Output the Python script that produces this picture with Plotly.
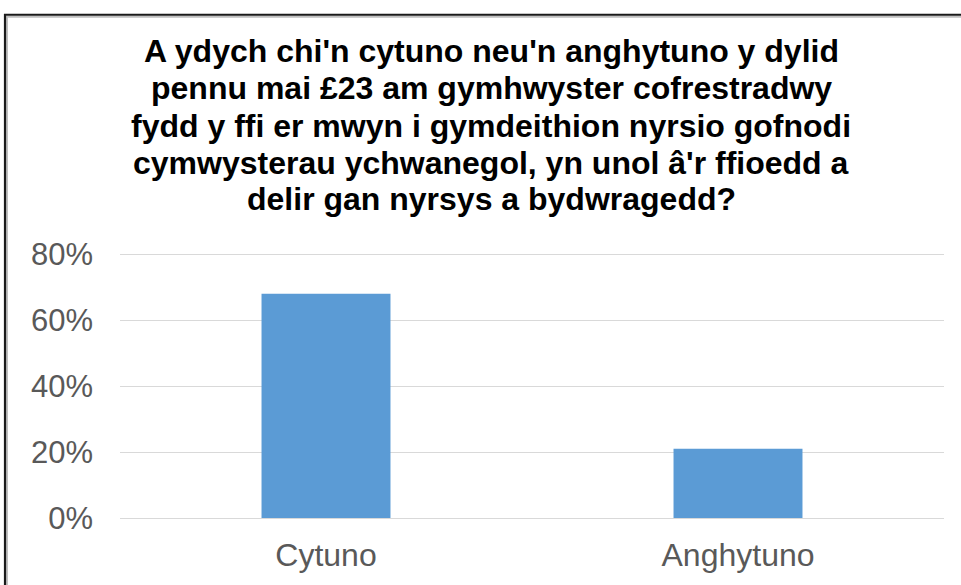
import plotly.graph_objects as go

categories = ["Cytuno", "Anghytuno"]
values = [0.68, 0.21]
y_ticks = [0, 0.2, 0.4, 0.6, 0.8]
y_tick_labels = ["0%", "20%", "40%", "60%", "80%"]
title_lines = [
    "A ydych chi'n cytuno neu'n anghytuno y dylid",
    "pennu mai £23 am gymhwyster cofrestradwy",
    "fydd y ffi er mwyn i gymdeithion nyrsio gofnodi",
    "cymwysterau ychwanegol, yn unol â'r ffioedd a",
    "delir gan nyrsys a bydwragedd?",
]

W, H = 961, 585
Y_MAX = 0.81
# target plot area in screen pixels: left 120, right 944, 80% at 254, 0% at 520
SCALE = (520 - 254) / 0.8
ML = 120
MR = W - 944
MB = H - 520
MT = round(520 - Y_MAX * SCALE)
PW = W - ML - MR
PH = H - MT - MB

def px_x(p):
    return (p - ML) / PW

def px_y(p):
    return (H - MB - p) / PH

fig = go.Figure()
fig.add_trace(go.Bar(
    x=categories, y=values,
    marker=dict(color="#5B9BD5", line=dict(width=0)),
    hoverinfo="skip",
))

line_centers = [49, 87, 125, 162, 199]
annotations = []
for txt, yc in zip(title_lines, line_centers):
    annotations.append(dict(
        text=txt, x=px_x(491), y=px_y(yc), xref="paper", yref="paper",
        xanchor="center", yanchor="middle", showarrow=False,
        font=dict(family="Liberation Sans, Arial, sans-serif", size=32,
                  color="#000000", weight="bold"),
    ))

fig.update_layout(
    width=W, height=H,
    margin=dict(l=ML, r=MR, t=MT, b=MB),
    paper_bgcolor="white", plot_bgcolor="white",
    bargap=0.687,
    showlegend=False,
    annotations=annotations,
    font=dict(family="Liberation Sans, Arial, sans-serif"),
    shapes=[
        dict(type="rect", xref="paper", yref="paper",
             x0=px_x(7), x1=px_x(1000), y0=px_y(640), y1=px_y(15),
             line=dict(color="#BFBFBF", width=2), fillcolor="rgba(0,0,0,0)", layer="above"),
        dict(type="rect", xref="paper", yref="paper",
             x0=px_x(5), x1=px_x(1000), y0=px_y(640), y1=px_y(13),
             line=dict(color="#1a1a1a", width=2.2), fillcolor="rgba(0,0,0,0)", layer="above"),
    ],
)

fig.update_yaxes(
    range=[0, Y_MAX], tickvals=y_ticks, ticktext=y_tick_labels,
    showgrid=True, gridcolor="#D9D9D9", gridwidth=1.3,
    zeroline=True, zerolinecolor="#D9D9D9", zerolinewidth=1.3,
    showline=False, ticks="",
    tickfont=dict(size=31, color="#595959"), ticklabelstandoff=26,
    fixedrange=True,
)
fig.update_xaxes(
    showline=False, ticks="", showgrid=False,
    tickfont=dict(size=32, color="#595959"), ticklabelstandoff=15,
    fixedrange=True,
)

fig.write_html("out.html", config={"displayModeBar": False},
               post_script="document.body.style.margin='0';")
